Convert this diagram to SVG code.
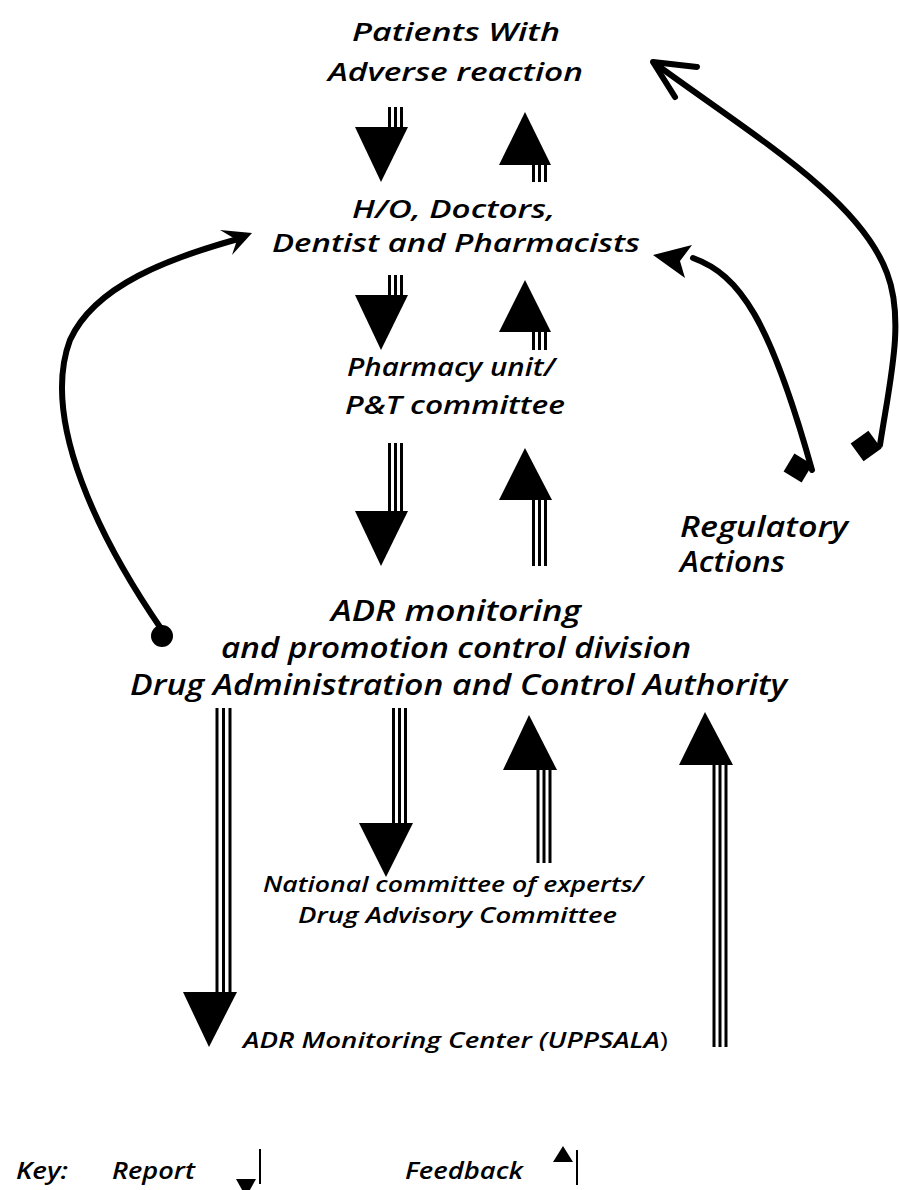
<svg xmlns="http://www.w3.org/2000/svg" width="900" height="1190" viewBox="0 0 900 1190">
<style>
text{font-family:"Open Sans","Liberation Sans",sans-serif;font-style:italic;font-weight:600;fill:#000}
.t{font-size:26px}
.m{font-size:28px}
.s{font-size:21px}
.k{font-size:24px}
.tl{stroke:#000;stroke-width:3;fill:none}
.hd{fill:#000}
.cv{stroke:#000;stroke-width:6;fill:none;stroke-linecap:round;stroke-linejoin:round}
</style>
<rect width="900" height="1190" fill="#fff"/>
<g id="patients">
<text class="t" x="352" y="41" textLength="208" lengthAdjust="spacingAndGlyphs">Patients With</text>
<text class="t" x="328" y="81" textLength="255" lengthAdjust="spacingAndGlyphs">Adverse reaction</text>
</g>
<g id="doctors">
<text class="t" x="352" y="218" textLength="203" lengthAdjust="spacingAndGlyphs">H/O, Doctors,</text>
<text class="t" x="272" y="252" textLength="368" lengthAdjust="spacingAndGlyphs">Dentist and Pharmacists</text>
</g>
<g id="pharmacy">
<text class="t" x="347" y="376" textLength="208" lengthAdjust="spacingAndGlyphs">Pharmacy unit/</text>
<text class="t" x="345" y="414" textLength="220" lengthAdjust="spacingAndGlyphs">P&amp;T committee</text>
</g>
<g id="adr">
<text class="m" x="331" y="621" textLength="250" lengthAdjust="spacingAndGlyphs">ADR monitoring</text>
<text class="m" x="221" y="658" textLength="470" lengthAdjust="spacingAndGlyphs">and promotion control division</text>
<text class="m" x="130" y="695" textLength="657" lengthAdjust="spacingAndGlyphs">Drug Administration and Control Authority</text>
</g>
<g id="national">
<text class="s" x="263" y="892" textLength="380" lengthAdjust="spacingAndGlyphs">National committee of experts/</text>
<text class="s" x="298" y="923" textLength="319" lengthAdjust="spacingAndGlyphs">Drug Advisory Committee</text>
</g>
<g id="uppsala">
<text class="s" x="243" y="1048" textLength="425" lengthAdjust="spacingAndGlyphs">ADR Monitoring Center (UPPSALA<tspan style="font-style:normal;font-weight:400">)</tspan></text>
</g>
<g id="regulatory">
<text class="m" x="680" y="537" textLength="168" lengthAdjust="spacingAndGlyphs">Regulatory</text>
<text class="m" x="680" y="572" textLength="105" lengthAdjust="spacingAndGlyphs">Actions</text>
</g>
<g id="connectors">
<path class="tl" d="M389.5 107V127M395.5 107V127M401.5 107V127"/>
<polygon class="hd" points="355,127 408,127 381,182"/>
<path class="tl" d="M533.5 165V182M539.5 165V182M545.5 165V182"/>
<polygon class="hd" points="499,165 551,165 525,112"/>
<path class="tl" d="M389.5 275V295M395.5 275V295M401.5 275V295"/>
<polygon class="hd" points="355,295 408,295 381,350"/>
<path class="tl" d="M533.5 332V350M539.5 332V350M545.5 332V350"/>
<polygon class="hd" points="499,332 551,332 525,280"/>
<path class="tl" d="M389.5 443V511M395.5 443V511M401.5 443V511"/>
<polygon class="hd" points="355,511 408,511 381,566"/>
<path class="tl" d="M533.5 500V566M539.5 500V566M545.5 500V566"/>
<polygon class="hd" points="499,500 552,500 525,448"/>
<path class="tl" d="M217 708V992M223.5 708V992M230 708V992"/>
<polygon class="hd" points="183,992 237,992 209,1047"/>
<path class="tl" d="M393.5 708V823M399.5 708V823M405.5 708V823"/>
<polygon class="hd" points="359,823 413,823 386,877"/>
<path class="tl" d="M538 770V863M544 770V863M550 770V863"/>
<polygon class="hd" points="503,770 557,770 529,715"/>
<path class="tl" d="M714 765V1047M720 765V1047M726 765V1047"/>
<polygon class="hd" points="679,765 733,765 705,712"/>
<path class="cv" d="M162 630C100 540 40 420 70 340C95 285 170 258 238 239"/>
<circle cx="162" cy="636" r="11"/>
<polygon class="hd" points="252,233 220,230 237,240 232,255"/>
<path class="cv" d="M693 258C740 275 770 320 812 470"/>
<rect x="-10.5" y="-10.5" width="21" height="21" transform="translate(798 468) rotate(31)"/>
<polygon class="hd" points="653,255 692,245 680,261 685,278"/>
<path class="cv" d="M880 445C890 380 905 320 887 273C860 200 760 140 657 65"/>
<polyline class="cv" points="697,67 653,62 675,97"/>
<rect x="-11" y="-11" width="22" height="22" transform="translate(866 446) rotate(-36)"/>
</g>
<g id="key">
<text class="k" x="16" y="1179" textLength="52" lengthAdjust="spacingAndGlyphs">Key:</text>
<text class="k" x="112" y="1179" textLength="83" lengthAdjust="spacingAndGlyphs">Report</text>
<polygon class="hd" points="236,1179 256,1179 246,1197"/>
<path d="M260 1149V1184" stroke="#000" stroke-width="2"/>
<text class="k" x="405" y="1179" textLength="118" lengthAdjust="spacingAndGlyphs">Feedback</text>
<polygon class="hd" points="553,1162 573,1162 563,1146"/>
<path d="M577 1150V1185" stroke="#000" stroke-width="2"/>
</g>
</svg>
